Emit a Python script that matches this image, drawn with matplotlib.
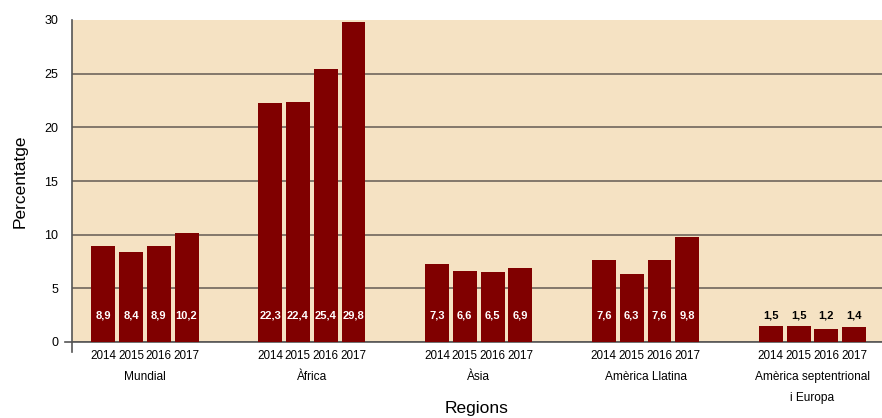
import numpy as np
import matplotlib.pyplot as plt

plt.rcParams['font.family'] = ['Liberation Sans', 'DejaVu Sans']

regions = ['Mundial', 'Àfrica', 'Àsia', 'Amèrica Llatina', 'Amèrica septentrional\ni Europa']
years = ['2014', '2015', '2016', '2017']
mundial = [8.9, 8.4, 8.9, 10.2]
africa = [22.3, 22.4, 25.4, 29.8]
asia = [7.3, 6.6, 6.5, 6.9]
america_llatina = [7.6, 6.3, 7.6, 9.8]
america_sept_europa = [1.5, 1.5, 1.2, 1.4]

series = [mundial, africa, asia, america_llatina, america_sept_europa]

bar_color = '#800000'
bg_color = '#F5E2C3'
grid_color = '#6f665c'

fig = plt.figure(figsize=(8.82, 4.18), dpi=100)
ax = fig.add_axes([72 / 882, 1 - 342 / 418, 1 - 72 / 882, (342 - 20) / 418])
ax.set_facecolor(bg_color)

xpos = []
for g, vals in enumerate(series):
    x = g * 6 + np.arange(len(vals))
    xpos.extend(x)
    ax.bar(x, vals, width=0.86, color=bar_color, zorder=3)
    for xi, v in zip(x, vals):
        txt = f'{v:.1f}'.replace('.', ',')
        # last group bars are too short, label goes above in black
        col = 'black' if g == len(series) - 1 else 'white'
        ax.text(xi, 2.5, txt, ha='center', va='center', color=col,
                fontsize=8, fontweight='bold', zorder=4)
    ax.text(x.mean(), -0.09, regions[g], transform=ax.get_xaxis_transform(),
            ha='center', va='top', fontsize=8.6, linespacing=2.05)

ax.set_xlim(-1.12, 28.0)
ax.set_ylim(0, 30)
ax.set_yticks(range(0, 31, 5))
ax.set_xticks(xpos)
ax.set_xticklabels(years * len(series), fontsize=8.4)
ax.tick_params(axis='x', length=0, pad=6)
ax.tick_params(axis='y', length=0, labelsize=9, pad=10)

ax.grid(axis='y', color=grid_color, linewidth=1.2, zorder=1)
ax.get_ygridlines()[-1].set_visible(False)
for s in ['top', 'right', 'left']:
    ax.spines[s].set_visible(False)
ax.spines['bottom'].set_color('#555555')
ax.spines['bottom'].set_linewidth(1.2)

# left axis line a bit below zero and the zero tick
ax.plot([0, 0], [-0.03, 1], transform=ax.transAxes, color='#555555',
        linewidth=1.2, clip_on=False, zorder=5)
ax.plot([-0.009, 0], [0, 0], transform=ax.transAxes, color='#555555',
        linewidth=1.2, clip_on=False, zorder=5)

ax.set_ylabel('Percentatge', fontsize=12.5, labelpad=12)
ax.text(0.5, -0.208, 'Regions', transform=ax.transAxes, ha='center', va='center',
        fontsize=12.5)

fig.savefig('out.png', dpi=100)
